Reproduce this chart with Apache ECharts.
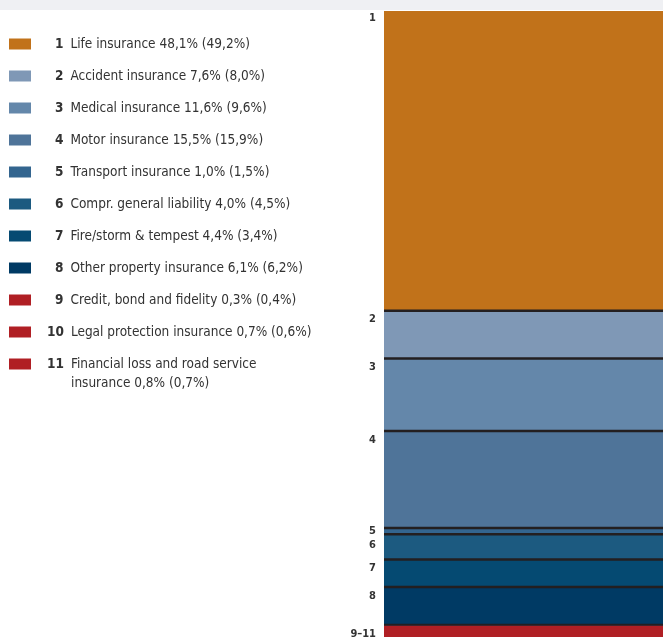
<!DOCTYPE html>
<html>
<head>
<meta charset="utf-8">
<script src="https://cdn.jsdelivr.net/npm/echarts@6/dist/echarts.min.js"></script>
<style>
  html, body { margin: 0; padding: 0; background: #fff; }
  #box1 { width: 663px; height: 637px; }
</style>
</head>
<body>
<div id="box1"></div>
<script>
var dom = document.getElementById("box1");
var myChart = echarts.init(dom);

// segment numbers, names and shares (current year, previous year in brackets)
var segNumbers = ['1', '2', '3', '4', '5', '6', '7', '8', '9', '10', '11'];
var segNames = [
  'Life insurance',
  'Accident insurance',
  'Medical insurance',
  'Motor insurance',
  'Transport insurance',
  'Compr. general liability',
  'Fire/storm & tempest',
  'Other property insurance',
  'Credit, bond and fidelity',
  'Legal protection insurance',
  'Financial loss and road service'
];
var lastNameTail = 'insurance'; // second line of item 11
var shareNow = [48.1, 7.6, 11.6, 15.5, 1.0, 4.0, 4.4, 6.1, 0.3, 0.7, 0.8];
var sharePrev = [49.2, 8.0, 9.6, 15.9, 1.5, 4.5, 3.4, 6.2, 0.4, 0.6, 0.7];
var barLabels = ['1', '2', '3', '4', '5', '6', '7', '8', '9\u201311', '', ''];
var segColors = ['#c1721a', '#7f98b6', '#6487aa', '#4f7499', '#33658f', '#1c5a80',
                 '#054a72', '#003a64', '#b01f24', '#b01f24', '#b01f24'];

var font = "'Liberation Sans Narrow', 'DejaVu Sans Condensed', sans-serif";

function pct(v) {
  return v.toFixed(1).replace('.', ',') + '%';
}
function shareText(i) {
  return pct(shareNow[i]) + ' (' + pct(sharePrev[i]) + ')';
}

var series = segNames.map(function (name, i) {
  var labelOffset = [0, 0];
  if (i === 4) labelOffset = [0, -6];
  if (i === 5) labelOffset = [0, 2];
  // dark separator line on top of segments 2..9, red filler for 10/11
  var shadow = 'rgba(0,0,0,0)';
  if (i > 0 && i < 9) shadow = '#231f20';
  if (i >= 9) shadow = segColors[i];
  return {
    name: name,
    type: 'bar',
    stack: 'total',
    barWidth: '100%',
    data: [shareNow[i]],
    itemStyle: {
      color: segColors[i],
      shadowColor: shadow,
      shadowBlur: 0,
      shadowOffsetY: i > 0 ? -2.5 : 0
    },
    label: {
      show: barLabels[i] !== '',
      formatter: barLabels[i],
      position: [-8, 2],
      align: 'right',
      verticalAlign: 'top',
      offset: labelOffset,
      color: '#333',
      fontWeight: 'bold',
      fontSize: 11,
      fontFamily: font
    },
    emphasis: { disabled: true },
    animation: false
  };
});

var numStyle = { fontWeight: 'bold', fontSize: 13.5, lineHeight: 16, color: '#333', fontFamily: font };

option = {
  color: segColors,
  graphic: [{
    type: 'rect',
    shape: { x: 0, y: 0, width: 663, height: 10 },
    style: { fill: '#eff0f3' },
    z: 100
  }, {
    // continuation line of legend item 11
    type: 'text',
    left: 71,
    top: 376,
    style: {
      text: lastNameTail + ' ' + shareText(10),
      fill: '#333',
      font: '13.5px ' + font
    }
  }],
  legend: {
    orient: 'vertical',
    left: 9,
    top: 36,
    padding: 0,
    itemWidth: 22,
    itemHeight: 11,
    itemGap: 16,
    icon: 'rect',
    selectedMode: false,
    data: segNames,
    formatter: function (name) {
      var i = segNames.indexOf(name);
      var txt = i === 10 ? name : name + ' ' + shareText(i);
      var key = segNumbers[i].length > 1 ? 'n2' : 'n1';
      return '{' + key + '|' + segNumbers[i] + '}{t|' + txt + '}';
    },
    textStyle: {
      lineHeight: 16,
      rich: {
        n1: Object.assign({ padding: [0, 0, 0, 19] }, numStyle),
        n2: Object.assign({ padding: [0, 0, 0, 11] }, numStyle),
        t: { padding: [0, 0, 0, 7], fontSize: 13.5, lineHeight: 16, color: '#333', fontFamily: font }
      }
    }
  },
  grid: {
    left: 384,
    right: 0,
    top: 11,
    bottom: 0
  },
  xAxis: {
    type: 'category',
    data: ['share'],
    show: false
  },
  yAxis: {
    type: 'value',
    inverse: true,
    min: 0,
    max: 100,
    show: false
  },
  series: series
};

if (option && typeof option === 'object') {
  myChart.setOption(option);
}
</script>
</body>
</html>
